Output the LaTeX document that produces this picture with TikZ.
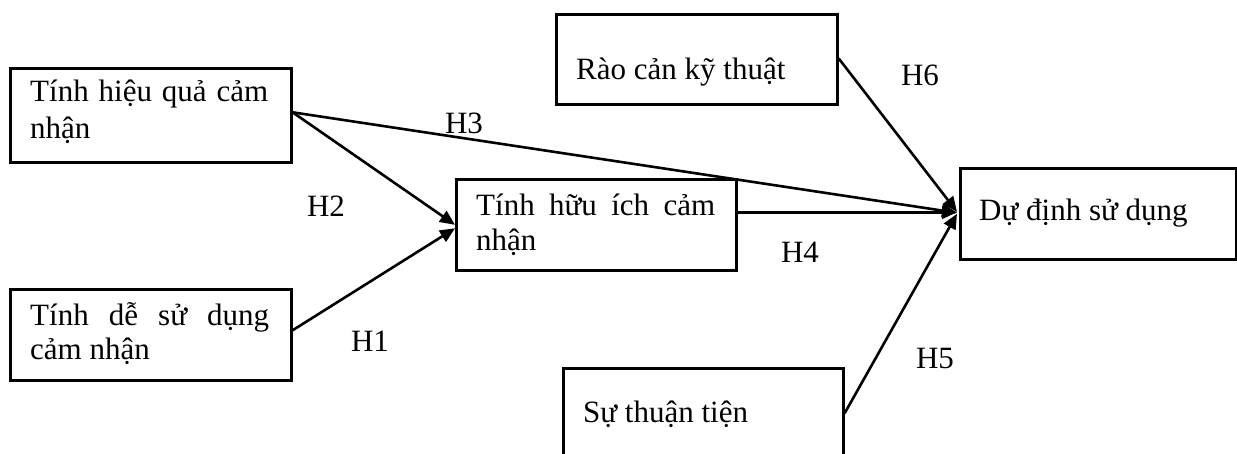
\documentclass[tikz,border=0pt]{standalone}
\usepackage{fontspec}
\setmainfont{Liberation Serif}
\usetikzlibrary{arrows.meta}
\begin{document}
\begin{tikzpicture}[x=1pt,y=-1pt,
  box/.style={draw, line width=2.6pt, rectangle, anchor=north west, inner sep=0pt},
  txt/.style={anchor=base west, inner sep=0pt, font=\fontsize{31}{37}\selectfont},
  hlab/.style={anchor=center, inner sep=0pt, font=\fontsize{31}{37}\selectfont},
  conn/.style={line width=2.6pt},
  arr/.style={line width=2.6pt, -{Triangle[length=15pt,width=13pt]}}]
\clip (0,0) rectangle (1237,453);
% boxes
\node[box, minimum width=281pt, minimum height=94pt] (b1) at (9,67) {};
\node[box, minimum width=281pt, minimum height=91pt] (b2) at (9,288) {};
\node[box, minimum width=280pt, minimum height=91pt] (b3) at (455,178) {};
\node[box, minimum width=281pt, minimum height=90pt] (b4) at (555,13) {};
\node[box, minimum width=276pt, minimum height=91pt] (b5) at (959,167) {};
\node[box, minimum width=280pt, minimum height=90pt] (b6) at (562,367) {};
% texts
\node[txt] (t1a) at (30,101) {\makebox[238pt][s]{Tính hiệu quả cảm}};
\node[txt] (t1b) at (30,138) {nhận};
\node[txt] (t2a) at (30,325) {\makebox[239pt][s]{Tính dễ sử dụng}};
\node[txt] (t2b) at (30,359) {cảm nhận};
\node[txt] (t3a) at (476,215) {\makebox[239pt][s]{Tính hữu ích cảm}};
\node[txt] (t3b) at (476,250) {nhận};
\node[txt] (t4) at (576,79) {Rào cản kỹ thuật};
\node[txt] (t5) at (979,220) {Dự định sử dụng};
\node[txt] (t6) at (583,422) {Sự thuận tiện};
% labels
\node[hlab] (h1) at (370,341) {H1};
\node[hlab] (h2) at (326,206) {H2};
\node[hlab] (h3) at (464,123) {H3};
\node[hlab] (h4) at (800,252) {H4};
\node[hlab] (h5) at (935,358) {H5};
\node[hlab] (h6) at (920,75) {H6};
% connectors
\draw[arr] ([yshift=3pt]b1.east) -- (b3.west);
\draw[arr] ([yshift=4.5pt]b2.east) -- ([yshift=-3.5pt]b3.west);
\draw[arr] ([yshift=3pt]b1.east) -- ([xshift=-2pt,yshift=1pt]b5.west);
\draw[arr] ([yshift=12.5pt]b3.east) -- ([xshift=-2pt,yshift=1.5pt]b5.west);
\draw[arr] ([yshift=1pt]b4.east) -- ([xshift=-2pt,yshift=2pt]b5.west);
\draw[arr] (b6.east) -- ([xshift=-2pt]b5.west);
\end{tikzpicture}
\end{document}
